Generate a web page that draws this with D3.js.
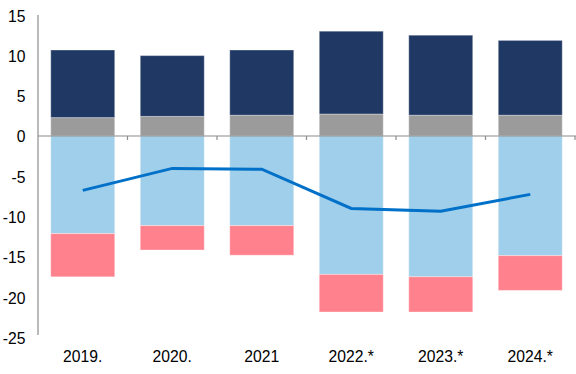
<!DOCTYPE html>
<html>
<head>
<meta charset="utf-8">
<script src="https://cdn.jsdelivr.net/npm/d3@7"></script>
<style>
  body { margin: 0; background: #fff; }
  text { font-family: "Liberation Sans", Arial, sans-serif; font-size: 15.7px; fill: #000; }
</style>
</head>
<body>
<div id="chart"></div>
<script>
// datos
var years = ["2019.", "2020.", "2021", "2022.*", "2023.*", "2024.*"];
var grayVals = [2.3, 2.45, 2.6, 2.75, 2.6, 2.6];
var navyVals = [8.45, 7.6, 8.15, 10.35, 10.0, 9.35];
var blueVals = [-12.2, -11.2, -11.2, -17.3, -17.6, -14.95];
var pinkVals = [-5.4, -3.05, -3.7, -4.7, -4.4, -4.35];
var lineVals = [-6.8, -4.05, -4.15, -9.05, -9.4, -7.3];
var yTicks = [15, 10, 5, 0, -5, -10, -15, -20, -25];

var width = 576, height = 374;
var plotLeft = 38, plotRight = 575, plotTop = 16, plotBottom = 336;

var svg = d3.select("#chart").append("svg")
    .attr("width", width)
    .attr("height", height);

var x = d3.scaleBand().domain(years).range([plotLeft, plotRight]).paddingInner(0.285).paddingOuter(0.1425);
var xStep = d3.scaleBand().domain(years).range([plotLeft, plotRight]);
var y = d3.scaleLinear().domain([-25, 15]).range([plotBottom, plotTop]);

// series apiladas
var series = [
    { name: "gray", color: "#9b9b9b", base: function (i) { return 0; }, val: grayVals },
    { name: "navy", color: "#203864", base: function (i) { return grayVals[i]; }, val: navyVals },
    { name: "blue", color: "#9fcfea", base: function (i) { return 0; }, val: blueVals },
    { name: "pink", color: "#ff818d", base: function (i) { return blueVals[i]; }, val: pinkVals }
];

series.forEach(function (s) {
    svg.append("g").selectAll("rect")
        .data(years)
        .enter().append("rect")
        .attr("x", function (d) { return x(d); })
        .attr("width", x.bandwidth())
        .attr("y", function (d, i) { return y(Math.max(s.base(i), s.base(i) + s.val[i])); })
        .attr("height", function (d, i) { return Math.abs(y(s.base(i)) - y(s.base(i) + s.val[i])); })
        .style("fill", s.color)
        .style("stroke", "rgba(255,255,255,0.35)")
        .style("stroke-width", 1);
});

// eje y
svg.append("line")
    .attr("x1", plotLeft).attr("x2", plotLeft)
    .attr("y1", y(15) - 1).attr("y2", y(-25) - 1)
    .style("stroke", "#8c8c8c").style("stroke-width", 1.2);

svg.selectAll(".yLabel")
    .data(yTicks)
    .enter().append("text")
    .attr("x", 25.5)
    .attr("y", function (d) { return y(d) + 6.3 + (d < 0 ? -d * 0.06 : 0); })
    .style("text-anchor", "end")
    .text(function (d) { return d; });

// eje x en cero
svg.append("line")
    .attr("x1", plotLeft).attr("x2", 578)
    .attr("y1", y(0)).attr("y2", y(0))
    .style("stroke", "#8c8c8c").style("stroke-width", 1.2);

svg.selectAll(".xTick")
    .data(years)
    .enter().append("line")
    .attr("x1", function (d) { return xStep(d) + xStep.bandwidth(); })
    .attr("x2", function (d) { return xStep(d) + xStep.bandwidth(); })
    .attr("y1", y(0)).attr("y2", y(0) + 4)
    .style("stroke", "#8c8c8c").style("stroke-width", 1.2);

svg.selectAll(".xLabel")
    .data(years)
    .enter().append("text")
    .attr("x", function (d) { return x(d) + x.bandwidth() / 2; })
    .attr("y", 361.5)
    .style("text-anchor", "middle")
    .text(function (d) { return d; });

// linea
var line = d3.line()
    .x(function (d, i) { return x(years[i]) + x.bandwidth() / 2; })
    .y(function (d) { return y(d); });

svg.append("path")
    .datum(lineVals)
    .attr("d", line)
    .style("fill", "none")
    .style("stroke", "#0070c8")
    .style("stroke-width", 3);
</script>
</body>
</html>
